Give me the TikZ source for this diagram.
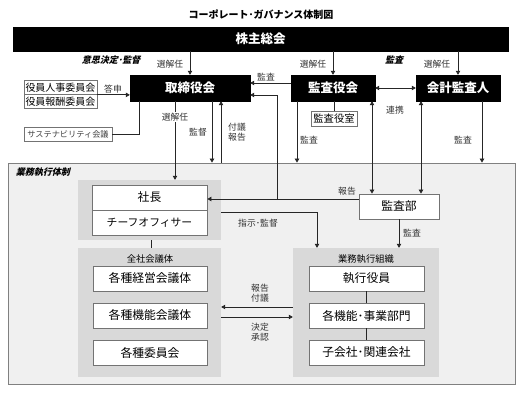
\documentclass[tikz,border=0pt]{standalone}
\usepackage{fontspec}
\setmainfont{Noto Sans CJK JP}
\newfontfamily\slfont{Noto Sans CJK JP}[FakeSlant=0.25]
\usetikzlibrary{arrows.meta}
\begin{document}
\begin{tikzpicture}[x=1pt,y=-1pt,
  blackbox/.style={fill=black, draw=black, text=white, inner sep=0pt, font=\bfseries\fontsize{12.5}{13}\selectfont},
  wbox/.style={fill=white, draw=black!55, line width=0.8pt, inner sep=0pt, font=\fontsize{11.8}{13}\selectfont},
  grp/.style={fill=black!15, draw=none, inner sep=0pt},
  lbl/.style={font=\fontsize{8.8}{10}\selectfont, text=black!80, inner sep=1pt, align=center},
  hdr/.style={font=\slfont\bfseries\fontsize{9}{10}\selectfont, inner sep=1pt},
  ln/.style={draw=black!85, line width=0.8pt},
  arr/.style={ln, -{Triangle[length=4pt,width=4.5pt]}},
  darr/.style={ln, {Triangle[length=4pt,width=4.5pt]}-{Triangle[length=4pt,width=4.5pt]}}]
\useasboundingbox[fill=white] (0,0) rectangle (523,393);

% title
\node[font=\bfseries\fontsize{10}{11}\selectfont] (title) at (261,15) {コーポレート･ガバナンス体制図};

% frame of execution
\node[draw=black!50, fill=black!6, line width=0.8pt, minimum width=507, minimum height=221, inner sep=0pt] (fr) at (261.5,273.5) {};
\node[hdr] (frl) at (43,172) {業務執行体制};

% top boxes
\node[blackbox, minimum width=495, minimum height=24] (gm) at (260.5,39) {株主総会};
\node[blackbox, minimum width=120, minimum height=26] (bd) at (190,88) {取締役会};
\node[blackbox, minimum width=84, minimum height=26] (ab) at (333,88) {監査役会};
\node[blackbox, minimum width=84, minimum height=26] (ea) at (458,88) {会計監査人};

\node[wbox, font=\fontsize{10}{11}\selectfont, minimum width=73, minimum height=14] (n1) at (60.5,87.5) {役員人事委員会};
\node[wbox, font=\fontsize{10}{11}\selectfont, minimum width=73, minimum height=14] (n2) at (60.5,101.5) {役員報酬委員会};
\node[wbox, font=\fontsize{8.2}{10}\selectfont, text=black!75, minimum width=88, minimum height=14] (sus) at (68,134) {サステナビリティ会議};
\node[wbox, font=\fontsize{10.3}{11}\selectfont, minimum width=46, minimum height=15] (ao) at (334,118.5) {監査役室};

% groups
\node[grp, minimum width=143, minimum height=60] (pg) at (149.5,210) {};
\node[wbox, minimum width=115, minimum height=25] (pres) at (149.5,197.5) {社長};
\node[wbox, font=\fontsize{10.8}{12}\selectfont, minimum width=115, minimum height=25] (co) at (149.5,222.5) {チーフオフィサー};

\node[grp, minimum width=143, minimum height=129] (zg) at (149.5,312.5) {};
\node[font=\fontsize{9.3}{10}\selectfont] (zgl) at (150,259) {全社会議体};
\node[wbox, minimum width=114, minimum height=25] (k1) at (150,278.5) {各種経営会議体};
\node[wbox, minimum width=114, minimum height=25] (k2) at (150,315.5) {各種機能会議体};
\node[wbox, minimum width=114, minimum height=25] (k3) at (150,352.5) {各種委員会};

\node[grp, minimum width=146, minimum height=129] (gg) at (366,312.5) {};
\node[font=\fontsize{9.3}{10}\selectfont] (ggl) at (366,259) {業務執行組織};
\node[wbox, minimum width=115, minimum height=25] (e1) at (366.5,278.5) {執行役員};
\node[wbox, minimum width=115, minimum height=25] (e2) at (366.5,315.5) {各機能･事業部門};
\node[wbox, minimum width=115, minimum height=25] (e3) at (366.5,352.5) {子会社･関連会社};

\node[wbox, minimum width=80, minimum height=25] (kb) at (399,206.5) {監査部};

% header labels
\node[hdr] (h1) at (111,60) {意思決定･監督};
\node[hdr] (h2) at (394,60) {監査};

% arrows from shareholders
\draw[arr] (gm.south -| bd.north) -- (bd.north);
\draw[arr] (gm.south -| ab.north) -- (ab.north);
\draw[arr] (gm.south -| ea.north) -- (ea.north);
\node[lbl] (s1) at (170,64) {選解任};
\node[lbl] (s2) at (313,64) {選解任};
\node[lbl] (s3) at (437,64) {選解任};

% audit board -> board
\draw[arr] (ab.west |- 0,83) -- (bd.east |- 0,83);
\node[lbl] (l1) at (266,77) {監査};
\draw[darr] (ab.east) -- (ea.west);
\node[lbl] (l2) at (395,110) {連携};

% committees
\draw[arr] (n1.south east) -- (bd.west |- n1.south east);
\node[lbl] (l3) at (113,89) {答申};
\draw[ln] (sus.east) -| (bd.south -| 139,0);

% board down lines
\draw[arr] (bd.south -| 175,0) -- (pg.north -| 175,0);
\node[lbl, fill=white] (l4) at (175,117) {選解任};
\draw[arr] (bd.south -| 212,0) -- (fr.north -| 212,0);
\node[lbl] (l5) at (198,132) {監督};
\draw[arr] (fr.north -| 221,0) -- (bd.south -| 221,0);
\node[lbl] (l6) at (237,132) {付議\\報告};

% audit board down lines
\draw[arr] (ab.south -| 297,0) -- (fr.north -| 297,0);
\node[lbl] (l7) at (309,140) {監査};
\draw[ln] (ab.south -| ao.north) -- (ao.north);
\draw[darr] (ab.south -| 372,0) -- (kb.north -| 372,0);
\draw[darr] (ea.south -| 421,0) -- (kb.north -| 421,0);
\draw[arr] (ea.south -| 482,0) -- (fr.north -| 482,0);
\node[lbl] (l8) at (463,140) {監査};

% report from audit dept
\coordinate (j) at (277,199);
\draw[arr] (kb.west |- j) -- (pres.east |- j);
\draw[arr] (j) |- (bd.east |- 0,95);
\node[lbl] (l9) at (347,191) {報告};

% instruction
\draw[arr] (pg.east |- 0,212) -| (gg.north -| 317,0);
\node[lbl] (l10) at (258,223) {指示･監督};

\draw[arr] (kb.south) -- (gg.north -| kb.south);
\node[lbl] (l11) at (412,233) {監査};

\draw[ln] (pg.south -| 151,0) -- (zg.north -| 151,0);

\draw[ln] (e1.south) -- (e2.north);
\draw[ln] (e2.south) -- (e3.north);

\draw[arr] (gg.west |- 0,307) -- (zg.east |- 0,307);
\draw[arr] (zg.east |- 0,317) -- (gg.west |- 0,317);
\node[lbl] (l12) at (260,293) {報告\\付議};
\node[lbl] (l13) at (260,332) {決定\\承認};
\end{tikzpicture}
\end{document}
